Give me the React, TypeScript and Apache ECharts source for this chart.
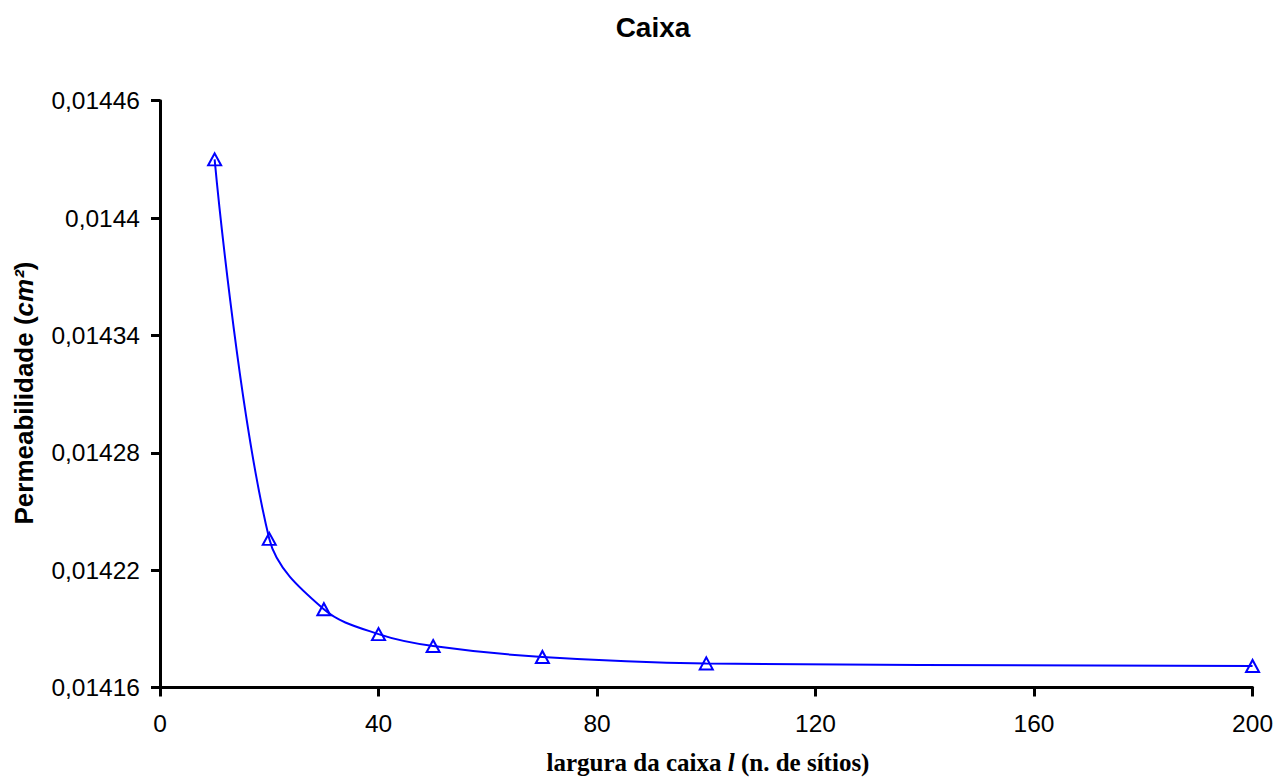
import React, { useEffect, useRef } from 'react';
import * as echarts from 'echarts';

const chartTitle = 'Caixa';
const xAxisName = '{b|largura da caixa }{i|l}{b| (n. de sítios)}';
const yAxisName = '{b|Permeabilidade (}{i|cm²}{b|)}';

// largura da caixa l (n. de sítios)
const boxWidths = [10, 20, 30, 40, 50, 70, 100, 200];
// Permeabilidade (cm²)
const permeability = [0.01443, 0.014236, 0.0142, 0.0141873, 0.0141812, 0.0141756, 0.0141723, 0.014171];

const xMin = 0;
const xMax = 200;
const xInterval = 40;
const yMin = 0.01416;
const yMax = 0.01446;
const yInterval = 0.00006;

const SANS = '"Liberation Sans", Arial, Helvetica, sans-serif';
const SERIF = '"Liberation Serif", "Times New Roman", serif';

export default function App() {
  const ref = useRef<HTMLDivElement>(null);

  useEffect(() => {
    const chart = echarts.init(ref.current!, null, { renderer: 'svg' });
    const data = boxWidths.map((x, i) => [x, permeability[i]]);
    chart.setOption({
      animation: false,
      backgroundColor: '#ffffff',
      grid: { left: 160, right: 22, top: 100.7, bottom: 93.5, containLabel: false },
      xAxis: {
        type: 'value',
        min: xMin,
        max: xMax,
        interval: xInterval,
        axisLine: { show: true, onZero: false, lineStyle: { color: '#000', width: 3 } },
        axisTick: { show: true, inside: false, length: 9, lineStyle: { color: '#000', width: 3 } },
        splitLine: { show: false },
        axisLabel: { color: '#000', fontFamily: SANS, fontSize: 24.5, margin: 23 },
      },
      yAxis: {
        type: 'value',
        min: yMin,
        max: yMax,
        interval: yInterval,
        axisLine: { show: true, onZero: false, lineStyle: { color: '#000', width: 3 } },
        axisTick: { show: true, inside: false, length: 9, lineStyle: { color: '#000', width: 3 } },
        splitLine: { show: false },
        axisLabel: {
          color: '#000',
          fontFamily: SANS,
          fontSize: 24.5,
          margin: 20,
          formatter: (v: number) => String(Number(v.toFixed(6))).replace('.', ','),
        },
      },
      series: [
        {
          type: 'line',
          data,
          smooth: 0.35,
          symbol: 'triangle',
          symbolSize: [13, 12],
          showAllSymbol: true,
          lineStyle: { color: '#0000FF', width: 2 },
          itemStyle: { color: 'rgba(0,0,0,0)', borderColor: '#0000FF', borderWidth: 2 },
        },
      ],
      graphic: [
        {
          type: 'text',
          x: 653,
          y: 27,
          style: {
            text: chartTitle,
            font: `bold 28px ${SANS}`,
            fill: '#000',
            textAlign: 'center',
            textVerticalAlign: 'middle',
          },
        },
        {
          type: 'text',
          x: 708,
          y: 762,
          style: {
            text: xAxisName,
            textAlign: 'center',
            textVerticalAlign: 'middle',
            fill: '#000',
            rich: {
              b: { fontFamily: SERIF, fontWeight: 'bold', fontSize: 25, fill: '#000', color: '#000' },
              i: { fontFamily: SERIF, fontWeight: 'bold', fontStyle: 'italic', fontSize: 25, fill: '#000', color: '#000' },
            },
          },
        },
        {
          type: 'text',
          x: 24,
          y: 393,
          rotation: Math.PI / 2,
          style: {
            text: yAxisName,
            textAlign: 'center',
            textVerticalAlign: 'middle',
            fill: '#000',
            rich: {
              b: { fontFamily: SANS, fontWeight: 'bold', fontSize: 26, fill: '#000', color: '#000' },
              i: { fontFamily: SANS, fontWeight: 'bold', fontStyle: 'italic', fontSize: 26, fill: '#000', color: '#000' },
            },
          },
        },
      ],
    });
    return () => chart.dispose();
  }, []);

  return <div ref={ref} style={{ position: 'absolute', left: 0, top: 0, width: 1276, height: 781 }} />;
}
